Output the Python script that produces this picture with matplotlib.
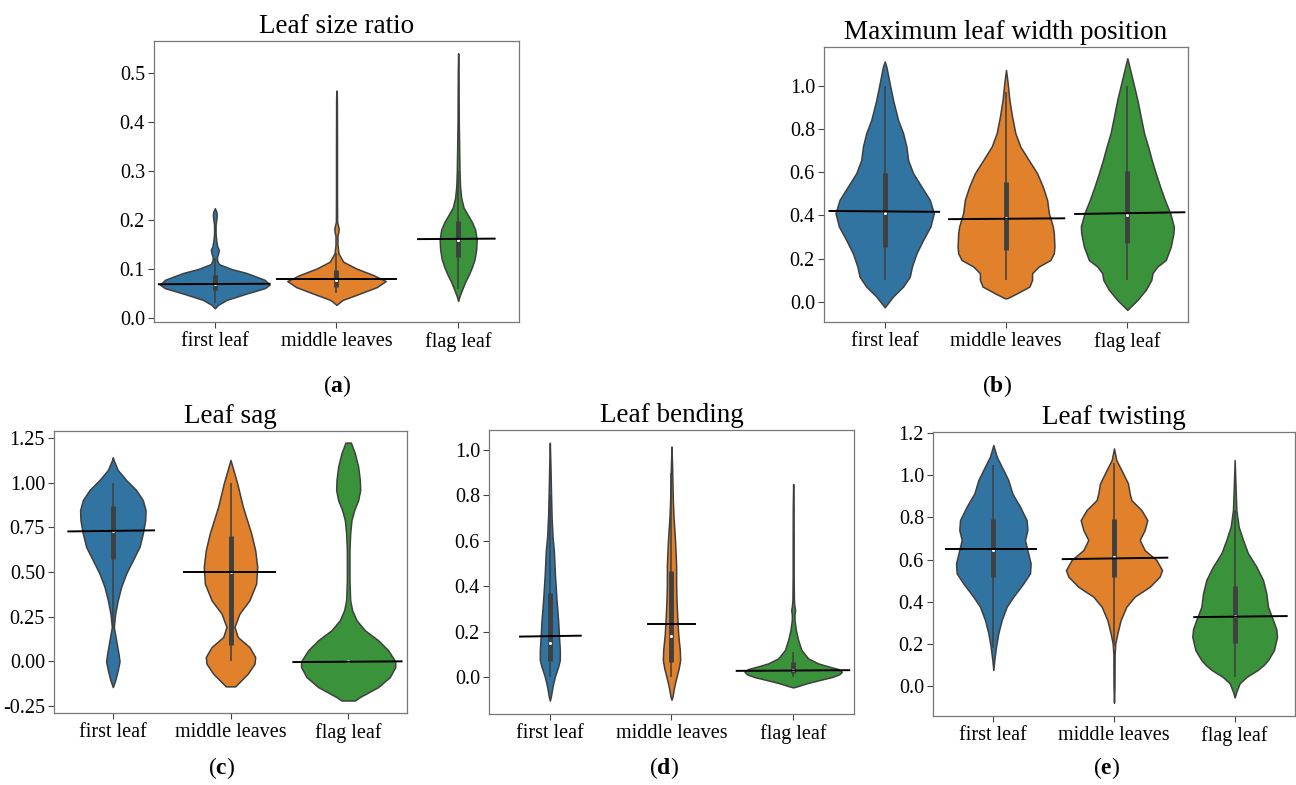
import matplotlib
matplotlib.use("Agg")
import matplotlib.pyplot as plt

plt.rcParams['font.family'] = ['Liberation Serif', 'DejaVu Serif']
plt.rcParams['mathtext.fontset'] = 'custom'
plt.rcParams['mathtext.rm'] = 'Liberation Serif'
plt.rcParams['mathtext.bf'] = 'Liberation Serif:bold'
plt.rcParams['axes.unicode_minus'] = False

categories = ["first leaf", "middle leaves", "flag leaf"]
colors = ["#3274a1", "#e1812c", "#3a923a"]
edge = "#3f3f3f"

# ---- (a) Leaf size ratio: violin outlines as (y, half width)
size_y = [
    [0.020, 0.027, 0.037, 0.050, 0.061, 0.068, 0.078, 0.092, 0.100, 0.110, 0.118, 0.125,
     0.132, 0.139, 0.146, 0.159, 0.173, 0.190, 0.203, 0.210, 0.217, 0.224],
    [0.027, 0.037, 0.047, 0.063, 0.0755, 0.088, 0.101, 0.115, 0.132, 0.150, 0.168, 0.175,
     0.182, 0.189, 0.196, 0.25, 0.35, 0.45, 0.464],
    [0.035, 0.045, 0.06, 0.075, 0.09, 0.105, 0.12, 0.14, 0.16, 0.18, 0.195, 0.21, 0.225,
     0.245, 0.27, 0.30, 0.35, 0.40, 0.45, 0.50, 0.54],
]
size_w = [
    [0, 0.027, 0.096, 0.26, 0.41, 0.45, 0.41, 0.26, 0.137, 0.033, 0.018, 0.018,
     0.027, 0.033, 0.02, 0.011, 0.006, 0.006, 0.013, 0.016, 0.012, 0],
    [0, 0.05, 0.16, 0.33, 0.405, 0.30, 0.164, 0.055, 0.016, 0.008, 0.008, 0.015,
     0.018, 0.012, 0.005, 0.004, 0.004, 0.003, 0],
    [0, 0.012, 0.035, 0.06, 0.09, 0.115, 0.135, 0.148, 0.152, 0.14, 0.115, 0.08, 0.045,
     0.025, 0.015, 0.011, 0.008, 0.005, 0.004, 0.003, 0],
]
# whisker low, q1, median, q3, whisker high
size_box = [(0.031, 0.057, 0.070, 0.088, 0.122),
            (0.051, 0.064, 0.078, 0.098, 0.132),
            (0.060, 0.124, 0.160, 0.197, 0.300)]
size_mean = [(0.069, 0.070), (0.079, 0.079), (0.161, 0.162)]
size_span = [(-0.46, 0.45), (-0.49, 0.49), (-0.33, 0.30)]

# ---- (b) Maximum leaf width position
width_y = [
    [-0.025, 0.025, 0.071, 0.117, 0.164, 0.225, 0.287, 0.349, 0.411, 0.472, 0.534, 0.596,
     0.657, 0.719, 0.781, 0.843, 0.935, 1.012, 1.089, 1.113],
    [0.017, 0.040, 0.071, 0.102, 0.133, 0.164, 0.194, 0.225, 0.256, 0.318, 0.349, 0.411,
     0.472, 0.534, 0.596, 0.657, 0.719, 0.781, 0.858, 0.935, 1.012, 1.074],
    [-0.037, 0.009, 0.056, 0.102, 0.133, 0.164, 0.194, 0.256, 0.318, 0.349, 0.411, 0.472,
     0.534, 0.596, 0.657, 0.719, 0.781, 0.858, 0.935, 1.012, 1.089, 1.128],
]
width_w = [
    [0, 0.069, 0.152, 0.207, 0.225, 0.262, 0.317, 0.377, 0.405, 0.372, 0.303, 0.234,
     0.193, 0.179, 0.152, 0.110, 0.069, 0.041, 0.014, 0],
    [0.01, 0.091, 0.193, 0.215, 0.215, 0.270, 0.366, 0.394, 0.399, 0.394, 0.386, 0.353,
     0.339, 0.303, 0.256, 0.187, 0.118, 0.077, 0.050, 0.028, 0.014, 0],
    [0, 0.083, 0.152, 0.198, 0.207, 0.248, 0.317, 0.358, 0.380, 0.383, 0.353, 0.309,
     0.270, 0.234, 0.201, 0.171, 0.138, 0.110, 0.083, 0.050, 0.017, 0],
]
width_box = [(0.10, 0.256, 0.41, 0.599, 1.0),
             (0.10, 0.238, 0.387, 0.557, 0.97),
             (0.10, 0.272, 0.40, 0.608, 1.0)]
width_mean = [(0.421, 0.417), (0.383, 0.387), (0.407, 0.415)]
width_span = [(-0.455, 0.449), (-0.47, 0.48), (-0.43, 0.47)]

# ---- (c) Leaf sag
sag_y = [
    [-0.144, -0.107, -0.050, 0.0, 0.043, 0.118, 0.192, 0.267, 0.342, 0.417, 0.491, 0.566,
     0.641, 0.716, 0.790, 0.846, 0.902, 0.959, 1.015, 1.071, 1.127, 1.142],
    [-0.140, -0.116, -0.069, -0.013, 0.024, 0.080, 0.136, 0.192, 0.267, 0.342, 0.435,
     0.529, 0.622, 0.716, 0.865, 0.996, 1.127],
    [-0.219, -0.200, -0.144, -0.088, -0.032, 0.0, 0.062, 0.118, 0.174, 0.23, 0.286, 0.342,
     0.45, 0.55, 0.622, 0.716, 0.79, 0.846, 0.902, 0.959, 1.015, 1.089, 1.164, 1.224],
]
sag_w = [
    [0, 0.020, 0.042, 0.057, 0.048, 0.028, 0.0085, 0.020, 0.042, 0.071, 0.113, 0.170,
     0.227, 0.255, 0.275, 0.278, 0.255, 0.198, 0.113, 0.042, 0.006, 0],
    [0.04, 0.076, 0.147, 0.204, 0.210, 0.161, 0.062, 0.034, 0.076, 0.161, 0.218,
     0.227, 0.210, 0.176, 0.105, 0.057, 0],
    [0.057, 0.099, 0.255, 0.354, 0.40, 0.40, 0.34, 0.255, 0.142, 0.071, 0.034, 0.017,
     0.011, 0.011, 0.011, 0.017, 0.028, 0.051, 0.085, 0.102, 0.099, 0.085, 0.057, 0.023],
]
sag_box = [(0.18, 0.57, 0.73, 0.869, 1.0),
           (0.0, 0.093, 0.50, 0.70, 1.0),
           (0.0, 0.0, 0.0, 0.0, 0.0)]
sag_mean = [(0.727, 0.733), (0.500, 0.500), (-0.004, 0.0)]
sag_span = [(-0.378, 0.350), (-0.395, 0.381), (-0.466, 0.454)]

# ---- (d) Leaf bending
bend_y = [
    [-0.104, -0.087, -0.043, 0.001, 0.045, 0.075, 0.119, 0.163, 0.251, 0.339, 0.45, 0.556,
     0.62, 0.71, 0.78, 0.85, 0.93, 1.032],
    [-0.10, -0.087, -0.043, 0.0, 0.04, 0.075, 0.12, 0.19, 0.27, 0.34, 0.41, 0.49, 0.556,
     0.62, 0.71, 0.78, 0.85, 0.93, 1.015],
    [-0.046, -0.04, -0.028, -0.013, 0.0, 0.012, 0.023, 0.035, 0.045, 0.060, 0.082, 0.119,
     0.163, 0.207, 0.251, 0.275, 0.295, 0.315, 0.339, 0.45, 0.6, 0.75, 0.85],
]
bend_w = [
    [0, 0.008, 0.022, 0.041, 0.068, 0.082, 0.082, 0.077, 0.068, 0.055, 0.042, 0.033,
     0.022, 0.014, 0.011, 0.008, 0.005, 0],
    [0, 0.008, 0.022, 0.041, 0.06, 0.071, 0.068, 0.055, 0.047, 0.041, 0.038, 0.038, 0.033,
     0.027, 0.016, 0.011, 0.008, 0.005, 0],
    [0, 0.04, 0.11, 0.22, 0.32, 0.38, 0.40, 0.37, 0.30, 0.205, 0.123, 0.068,
     0.041, 0.022, 0.011, 0.011, 0.016, 0.01, 0.006, 0.004, 0.004, 0.003, 0],
]
bend_box = [(0.0, 0.072, 0.15, 0.371, 0.80),
            (0.0, 0.068, 0.18, 0.468, 0.90),
            (0.0, 0.019, 0.03, 0.067, 0.111)]
bend_mean = [(0.178, 0.182), (0.232, 0.232), (0.027, 0.030)]
bend_span = [(-0.245, 0.254), (-0.19, 0.196), (-0.464, 0.461)]

# ---- (e) Leaf twisting
twist_y = [
    [0.076, 0.123, 0.187, 0.250, 0.313, 0.376, 0.424, 0.487, 0.535, 0.582, 0.645, 0.693,
     0.740, 0.787, 0.851, 0.914, 0.977, 1.025, 1.088, 1.143],
    [-0.079, 0.0, 0.15, 0.202, 0.250, 0.313, 0.376, 0.424, 0.471, 0.519, 0.550, 0.598,
     0.645, 0.693, 0.740, 0.787, 0.835, 0.882, 0.914, 0.961, 1.009, 1.072, 1.127],
    [-0.054, -0.03, 0.013, 0.044, 0.076, 0.10, 0.123, 0.171, 0.234, 0.27, 0.313, 0.376,
     0.44, 0.503, 0.566, 0.630, 0.693, 0.756, 0.835, 0.95, 1.072],
]
twist_w = [
    [0, 0.008, 0.022, 0.041, 0.069, 0.110, 0.166, 0.249, 0.304, 0.309, 0.282, 0.262,
     0.282, 0.276, 0.221, 0.157, 0.124, 0.083, 0.028, 0],
    [0, 0.004, 0.005, 0.011, 0.028, 0.055, 0.102, 0.171, 0.296, 0.378, 0.398, 0.351,
     0.254, 0.213, 0.254, 0.276, 0.227, 0.144, 0.130, 0.116, 0.075, 0.019, 0],
    [0, 0.012, 0.041, 0.10, 0.19, 0.24, 0.276, 0.326, 0.351, 0.345, 0.318, 0.276,
     0.262, 0.235, 0.180, 0.110, 0.069, 0.033, 0.014, 0.007, 0],
]
twist_box = [(0.179, 0.519, 0.645, 0.791, 1.048),
             (0.19, 0.519, 0.613, 0.791, 1.056),
             (0.044, 0.206, 0.33, 0.474, 0.835)]
twist_mean = [(0.651, 0.651), (0.602, 0.609), (0.327, 0.332)]
twist_span = [(-0.392, 0.354), (-0.425, 0.442), (-0.335, 0.431)]

titles = ["Leaf size ratio", "Maximum leaf width position", "Leaf sag",
          "Leaf bending", "Leaf twisting"]
letters = ["a", "b", "c", "d", "e"]

W, H = 1296, 785
fig = plt.figure(figsize=(W / 100, H / 100), dpi=100)

# axes boxes in pixels: left, top, right, bottom
boxes_px = [(154, 41, 519, 322), (824, 47, 1188, 322), (54, 431, 407, 713),
            (489, 430, 854, 714), (933, 432, 1295, 716)]
ylims = [(-0.008, 0.565), (-0.093, 1.18), (-0.289, 1.289), (-0.163, 1.088), (-0.142, 1.205)]
yticks = [[0, 0.1, 0.2, 0.3, 0.4, 0.5],
          [0, 0.2, 0.4, 0.6, 0.8, 1.0],
          [-0.25, 0, 0.25, 0.5, 0.75, 1.0, 1.25],
          [0, 0.2, 0.4, 0.6, 0.8, 1.0],
          [0, 0.2, 0.4, 0.6, 0.8, 1.0, 1.2]]
label_xy = [(337, 386), (997, 386), (222, 768), (664, 768), (1107, 768)]

data = [(size_y, size_w, size_box, size_mean, size_span),
        (width_y, width_w, width_box, width_mean, width_span),
        (sag_y, sag_w, sag_box, sag_mean, sag_span),
        (bend_y, bend_w, bend_box, bend_mean, bend_span),
        (twist_y, twist_w, twist_box, twist_mean, twist_span)]

for k in range(5):
    l, t, r, b = boxes_px[k]
    ax = fig.add_axes([l / W, 1 - b / H, (r - l) / W, (b - t) / H])
    py, pw, bx, mn, sp = data[k]
    for i in range(3):
        left = [i - w for w in pw[i]]
        right = [i + w for w in pw[i]]
        ax.fill_betweenx(py[i], left, right, facecolor=colors[i], edgecolor=edge,
                         linewidth=1.1, zorder=1)
        lo, q1, med, q3, hi = bx[i]
        ax.vlines(i, lo, hi, color=edge, lw=1.1, zorder=2)
        ax.vlines(i, q1, q3, color=edge, lw=3.5, zorder=2)
        ax.scatter([i], [med], s=5, color="white", zorder=3, linewidths=0)
        ax.plot([i + sp[i][0], i + sp[i][1]], [mn[i][0], mn[i][1]], color="black",
                lw=1.4, zorder=4)
    ax.set_xlim(-0.5, 2.5)
    ax.set_ylim(*ylims[k])
    ax.set_xticks([0, 1, 2])
    ax.set_xticklabels(categories)
    ax.set_yticks(yticks[k])
    ax.tick_params(labelsize=14.5, length=4, width=0.8, color="#444444")
    ax.tick_params(axis="y", pad=2.5)
    for s in ax.spines.values():
        s.set_color("#777777")
        s.set_linewidth(0.9)
    ax.set_title(titles[k], fontsize=19.5, pad=6)
    fig.text(label_xy[k][0] / W, 1 - label_xy[k][1] / H,
             "(" + r"$\mathbf{" + letters[k] + "}$" + ")",
             fontsize=17, ha="center", va="center")

fig.savefig("out.png", dpi=100)
